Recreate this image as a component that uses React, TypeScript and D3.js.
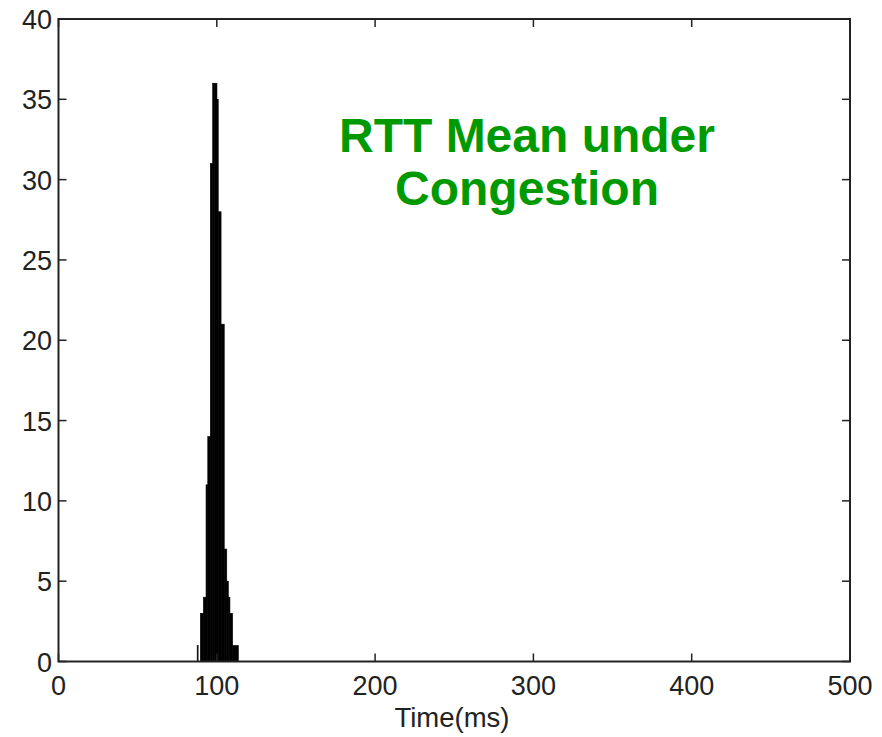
import React from "react";
import * as d3 from "d3";

const binStart = [87.6, 89.6, 91.5, 93.2, 94.3, 95.9, 97.4, 98.75, 100.1, 100.9, 102.7, 104.7, 106.3, 107.3, 108.3, 110.0];
const binEnd = [88.2, 91.5, 93.2, 94.3, 95.9, 97.4, 98.75, 100.1, 100.9, 102.7, 104.7, 106.3, 107.3, 108.3, 110.0, 113.6];
const counts = [1, 3, 4, 11, 14, 31, 36, 36, 35, 28, 21, 7, 5, 4, 3, 1];

const xTicks = [0, 100, 200, 300, 400, 500];
const yTicks = [0, 5, 10, 15, 20, 25, 30, 35, 40];
const titleLines = ["RTT Mean under", "Congestion"];
const xLabel = "Time(ms)";

export default function App() {
  const W = 882, H = 737;
  const left = 58.5, right = 850, top = 19, bottom = 661.5;
  const x = d3.scaleLinear().domain([0, 500]).range([left, right]);
  const y = d3.scaleLinear().domain([0, 40]).range([bottom, top]);
  const tickLen = 8;
  const font = "Arial, 'Liberation Sans', sans-serif";
  const txt = "#222";
  return (
    <svg width={W} height={H} style={{ position: "absolute", left: 0, top: 0, background: "#fff" }}>
      {counts.map((c, i) => (
        <rect key={i} x={x(binStart[i])} y={y(c)} width={x(binEnd[i]) - x(binStart[i])} height={y(0) - y(c)} fill="#000" stroke="#000" strokeWidth={0.6} />
      ))}
      <rect x={left} y={top} width={right - left} height={bottom - top} fill="none" stroke="#222" strokeWidth={2} />
      {xTicks.map((t) => (
        <g key={"x" + t}>
          <line x1={x(t)} x2={x(t)} y1={bottom} y2={bottom - tickLen} stroke="#222" strokeWidth={1.5} />
          <line x1={x(t)} x2={x(t)} y1={top} y2={top + tickLen} stroke="#222" strokeWidth={1.5} />
          <text x={x(t)} y={695} textAnchor="middle" fontFamily={font} fontSize={27} fill={txt}>{t}</text>
        </g>
      ))}
      {yTicks.map((t) => (
        <g key={"y" + t}>
          <line x1={left} x2={left + tickLen} y1={y(t)} y2={y(t)} stroke="#222" strokeWidth={1.5} />
          <line x1={right} x2={right - tickLen} y1={y(t)} y2={y(t)} stroke="#222" strokeWidth={1.5} />
          <text x={52} y={y(t) + 10} textAnchor="end" fontFamily={font} fontSize={27} fill={txt}>{t}</text>
        </g>
      ))}
      <text x={452} y={727} textAnchor="middle" fontFamily={font} fontSize={27.5} fill={txt}>{xLabel}</text>
      {titleLines.map((l, i) => (
        <text key={l} x={527} y={152 + i * 53} textAnchor="middle" fontFamily={font} fontWeight="bold" fontSize={48} fill="#009a00">{l}</text>
      ))}
    </svg>
  );
}
